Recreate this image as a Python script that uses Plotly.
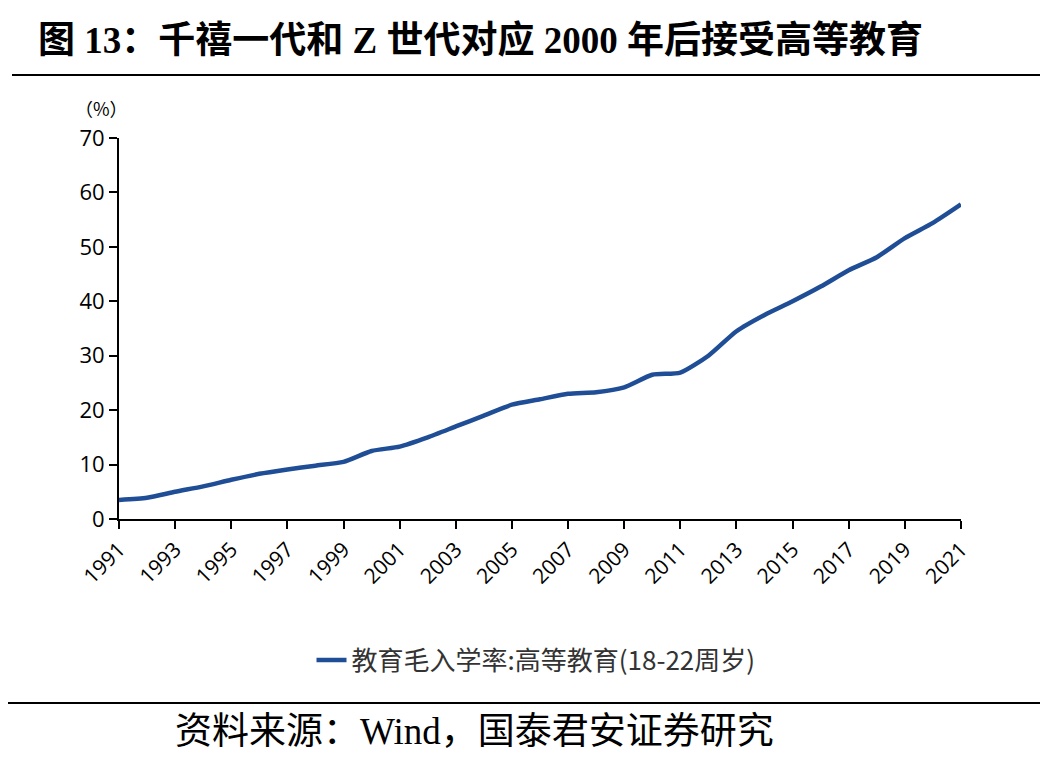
import plotly.graph_objects as go

years = list(range(1991, 2022))
rate = [3.5, 3.9, 5.0, 6.0, 7.2, 8.3, 9.1, 9.8, 10.5, 12.5,
        13.3, 15.0, 17.0, 19.0, 21.0, 22.0, 23.0, 23.3, 24.2, 26.5,
        26.9, 30.0, 34.5, 37.5, 40.0, 42.7, 45.7, 48.1, 51.6, 54.4, 57.8]
series_name = "教育毛入学率:高等教育(18-22周岁)"
title_text = "图 13：千禧一代和 Z 世代对应 2000 年后接受高等教育"
source_text = "资料来源：Wind，国泰君安证券研究"
tick_years = list(range(1991, 2022, 2))
y_ticks = [0, 10, 20, 30, 40, 50, 60, 70]

W, H = 1048, 768
OFF = 8  # page body margin
L, R, T, B = 119 - OFF, 961 - OFF, 138 - OFF, 519 - OFF
pw, ph = R - L, B - T

def px(x):
    return (x - OFF - L) / pw

def py(y):
    return (B - (y - OFF)) / ph

fig = go.Figure()
fig.add_trace(go.Scatter(
    x=years, y=rate, mode="lines", name=series_name,
    line=dict(color="#1F4E96", width=4.5, shape="spline", smoothing=0.6),
))

sans = "Noto Sans CJK SC, Noto Sans, sans-serif"
serif = "Liberation Serif, Noto Sans CJK SC, serif"

fig.update_layout(
    width=W, height=H,
    margin=dict(l=L, r=W - R, t=T, b=H - B),
    paper_bgcolor="white", plot_bgcolor="white",
    showlegend=True,
    legend=dict(orientation="h", x=px(536), xanchor="center", y=py(660), yanchor="middle",
                font=dict(family=sans, size=26, color="#333333")),
    xaxis=dict(range=[1991, 2021], tickvals=tick_years, ticktext=[str(v) for v in tick_years],
               tickangle=-45, showgrid=False, zeroline=False, showline=True,
               linecolor="black", linewidth=2, ticks="outside", ticklen=8, tickwidth=2,
               tickcolor="black", tickfont=dict(family="Open Sans, Noto Sans, sans-serif", size=21, color="black")),
    yaxis=dict(range=[0, 70], tickvals=y_ticks, showgrid=False, zeroline=False, showline=True,
               linecolor="black", linewidth=2, ticks="outside", ticklen=8, tickwidth=2,
               tickcolor="black", tickfont=dict(family="Open Sans, Noto Sans, sans-serif", size=22, color="black")),
    font=dict(family=sans),
)

fig.add_annotation(xref="paper", yref="paper", x=px(36), y=py(40), xanchor="left", yanchor="middle",
                   text="<b>" + title_text + "</b>", showarrow=False,
                   font=dict(family=serif, size=37, color="black"))
fig.add_annotation(xref="paper", yref="paper", x=px(101), y=py(108), xanchor="center", yanchor="middle",
                   text="（%）", showarrow=False, font=dict(family=sans, size=18, color="black"))
fig.add_annotation(xref="paper", yref="paper", x=px(173), y=py(731), xanchor="left", yanchor="middle",
                   text=source_text, showarrow=False, font=dict(family=serif, size=37, color="black"))

fig.add_shape(type="line", xref="paper", yref="paper", x0=px(12), x1=px(1056), y0=py(75), y1=py(75),
              line=dict(color="black", width=2))
fig.add_shape(type="line", xref="paper", yref="paper", x0=px(0), x1=px(1056), y0=py(703), y1=py(703),
              line=dict(color="black", width=2))

fig.write_html("out.html")
